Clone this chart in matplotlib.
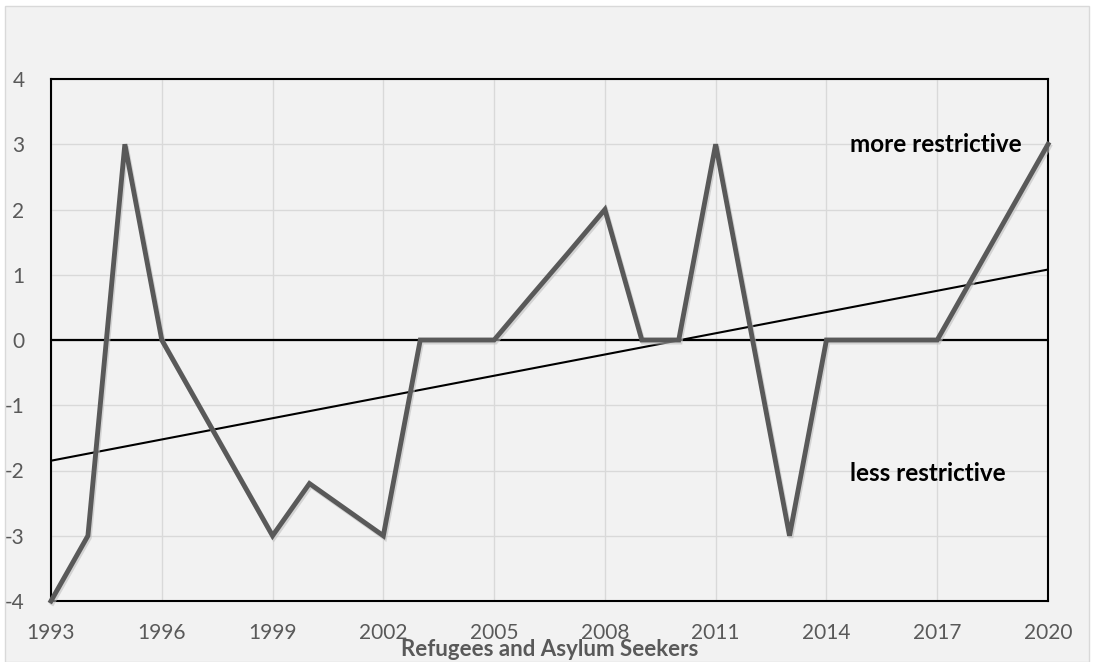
import matplotlib
matplotlib.use("Agg")
import matplotlib.pyplot as plt
import matplotlib.patheffects as pe
from matplotlib.patches import Rectangle
import numpy as np

plt.rcParams['font.family'] = ['Lato', 'DejaVu Sans']
plt.rcParams['axes.unicode_minus'] = False

years = [1993, 1994, 1995, 1996, 1997, 1998, 1999, 2000, 2001, 2002, 2003, 2004, 2005,
         2006, 2007, 2008, 2009, 2010, 2011, 2012, 2013, 2014, 2015, 2016, 2017, 2018,
         2019, 2020]
values = [-4, -3, 3, 0, -1, -2, -3, -2.2, -2.6, -3, 0, 0, 0,
          0.67, 1.33, 2, 0, 0, 3, 0, -3, 0, 0, 0, 0, 1, 2, 3]
trend_start = -1.85
trend_end = 1.08
xticks = [1993, 1996, 1999, 2002, 2005, 2008, 2011, 2014, 2017, 2020]
yticks = [-4, -3, -2, -1, 0, 1, 2, 3, 4]

W, H = 1094, 662
fig = plt.figure(figsize=(W / 100, H / 100), dpi=100)
fig.patch.set_facecolor('white')
fig.patches.append(Rectangle((5 / W, 0), (1089 - 5) / W, (H - 6) / H,
                             transform=fig.transFigure, facecolor='#f2f2f2',
                             edgecolor='#d9d9d9', linewidth=1, zorder=-10))

left, right, top, bottom = 51, 1048, 79, 601
ax = fig.add_axes([left / W, 1 - bottom / H, (right - left) / W, (bottom - top) / H])
ax.set_facecolor('#f2f2f2')
ax.set_xlim(1993, 2020)
ax.set_ylim(-4, 4)
ax.set_xticks(xticks)
ax.set_xticklabels([str(x) for x in xticks])
ax.set_yticks(yticks)
ax.set_yticklabels([str(y) for y in yticks])
ax.grid(True, color='#d9d9d9', linewidth=1)
ax.set_axisbelow(True)
for s in ax.spines.values():
    s.set_color('black')
    s.set_linewidth(1.5)
ax.tick_params(length=0, labelsize=15, colors='#595959')
ax.tick_params(axis='x', pad=16)
ax.tick_params(axis='y', pad=19)

ax.axhline(0, color='black', linewidth=1.6, zorder=2)
ax.plot([years[0], years[-1]], [trend_start, trend_end], color='black', linewidth=1.5, zorder=3)
ax.plot(years, values, color='#595959', linewidth=3.5, zorder=4, solid_joinstyle='miter',
        path_effects=[pe.SimpleLineShadow(offset=(1, -1.5), shadow_color='#bfbfbf', alpha=0.6),
                      pe.Normal()], clip_on=False)

ax.text(2019.28, 3, 'more restrictive', fontsize=17.5, fontweight='bold', ha='right', va='center')
ax.text(2018.85, -2.05, 'less restrictive', fontsize=17.5, fontweight='bold', ha='right', va='center')

fig.text(550 / W, 1 - 649 / H, 'Refugees and Asylum Seekers', fontsize=16, fontweight='bold',
         color='#595959', ha='center', va='center')

fig.savefig('out.png', dpi=100, facecolor=fig.get_facecolor())
